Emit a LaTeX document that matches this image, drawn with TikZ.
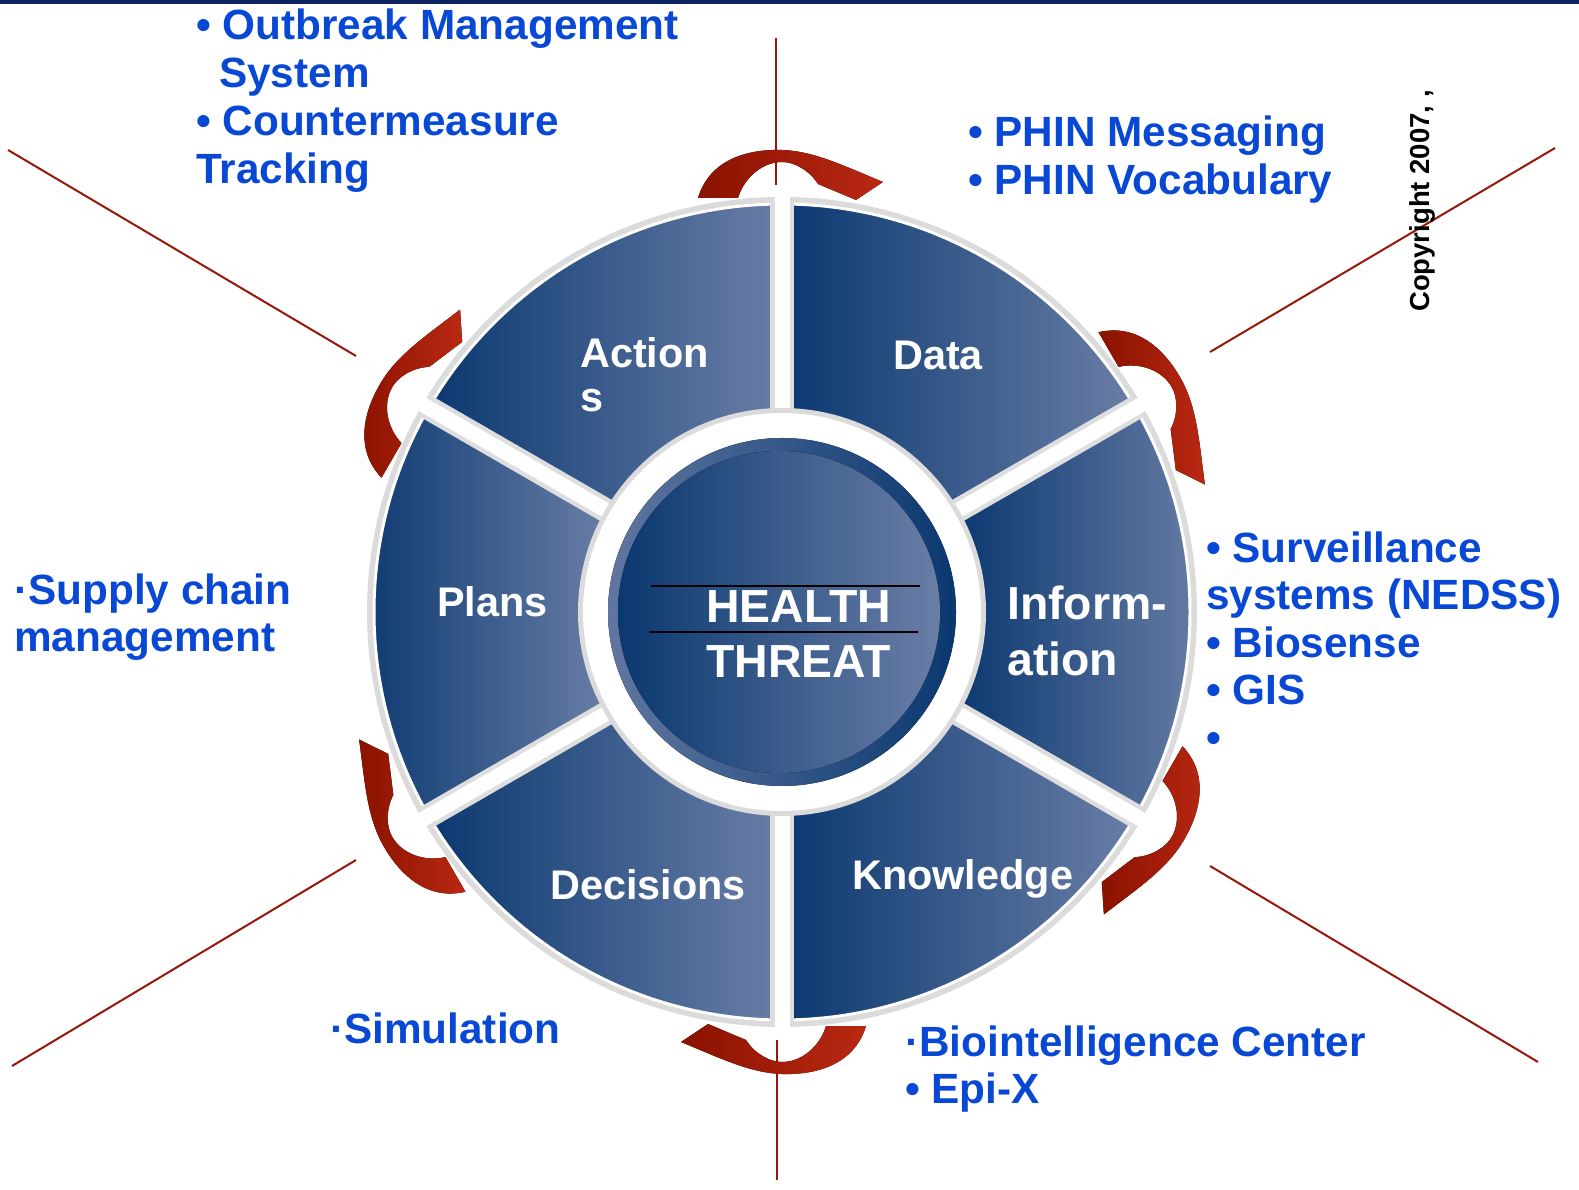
\documentclass[tikz,border=0pt]{standalone}
\usepackage{fontspec}
\setmainfont{Liberation Sans}
\definecolor{wheeldark}{RGB}{10,56,112}
\definecolor{wheellight}{RGB}{106,126,166}
\definecolor{rimlight}{RGB}{96,118,160}
\definecolor{labelblue}{RGB}{8,72,212}
\definecolor{arrowdark}{RGB}{138,18,0}
\definecolor{arrowlight}{RGB}{185,40,18}
\definecolor{guide}{RGB}{150,24,10}
\definecolor{topband}{RGB}{12,36,96}
\tikzset{
  bluetxt/.style={anchor=base west, inner sep=0pt, text=labelblue, font=\bfseries\fontsize{42.3pt}{48pt}\selectfont},
  whitetxt/.style={anchor=base west, inner sep=0pt, text=white, font=\bfseries\fontsize{41.4pt}{48pt}\selectfont},
  bigtxt/.style={whitetxt, font=\bfseries\fontsize{46.4pt}{52pt}\selectfont},
  guideline/.style={draw=guide, line width=2pt},
  gapshadow/.style={draw=black!13, line width=24pt},
  gapwhite/.style={draw=white, line width=15pt}
}
\newcommand{\cyclearrow}[1]{%
  \begin{scope}[shift={(782,577)}, shift={(#1:412)}, rotate=#1-90]
    \fill[left color=arrowdark, right color=arrowlight]
      (-84,2) .. controls (-72,42) and (-32,51) .. (0,50)
      .. controls (32,49) and (62,34) .. (101,18) -- (74,0) -- (36,16)
      .. controls (27,30) and (12,38) .. (0,38)
      .. controls (-20,38) and (-38,22) .. (-44,2) -- cycle;
  \end{scope}}
\begin{document}
\begin{tikzpicture}[x=1pt, y=1pt]
    \useasboundingbox (0,0) rectangle (1579,1189);
    \fill[topband] (0,1185) rectangle (1579,1189);
    \coordinate (ctr) at (782,577);
    % guide lines
    \coordinate (gT1) at (776,1151); \coordinate (gT2) at (776,1004);
    \coordinate (gB1) at (777,149);  \coordinate (gB2) at (777,9);
    \coordinate (gUL1) at (8,1039);  \coordinate (gUL2) at (356,833);
    \coordinate (gUR1) at (1210,837); \coordinate (gUR2) at (1555,1041);
    \coordinate (gLL1) at (12,123);  \coordinate (gLL2) at (356,329);
    \coordinate (gLR1) at (1210,323); \coordinate (gLR2) at (1538,127);
    \draw[guideline] (gUL1) -- (gUL2);
    \draw[guideline] (gUR1) -- (gUR2);
    \draw[guideline] (gLL1) -- (gLL2);
    \draw[guideline] (gLR1) -- (gLR2);
    % wheel
    \begin{scope}[shift={(ctr)}]
        \draw[black!14, line width=8pt] (0,0) circle[radius=411];
        \foreach \a in {-30,30,90,150,210,270}
            \fill[left color=wheeldark, right color=wheellight]
                (\a:200) -- (\a:409) arc[start angle=\a, end angle=\a+60, radius=409]
                -- (\a+60:200) arc[start angle=\a+60, end angle=\a, radius=200] -- cycle;
        \draw[white, line width=3pt] (0,0) circle[radius=408];
        \foreach \a in {-30,30,90,150,210,270}
            \draw[gapshadow] (\a:195) -- (\a:411);
        \foreach \a in {-30,30,90,150,210,270}
            \draw[gapwhite] (\a:190) -- (\a:425);
        \fill[black!14] (0,0) circle[radius=204];
        \fill[white] (0,0) circle[radius=199];
        \fill[left color=rimlight, right color=wheeldark] (0,0) circle[radius=174];
        \fill[left color=wheeldark, right color=wheellight] (-3,0) circle[radius=161];
    \end{scope}
    \draw[guideline] (gT1) -- (gT2);
    \draw[guideline] (gB1) -- (gB2);
    % cycle arrows
    \foreach \a in {90,30,-30,-90,-150,150}
        \cyclearrow{\a}
    % center
    \coordinate (hl1) at (651,603); \coordinate (hl2) at (920,603);
    \coordinate (hl3) at (649,557); \coordinate (hl4) at (918,557);
    \draw[black, line width=2pt] (hl1) -- (hl2);
    \draw[black, line width=2pt] (hl3) -- (hl4);
    \node[bigtxt] (health) at (706,566) {HEALTH};
    \node[bigtxt] (threat) at (706,511) {THREAT};
    % sectors
    \node[whitetxt] (act1) at (580,821) {Action};
    \node[whitetxt] (act2) at (580,777) {s};
    \node[whitetxt] (data) at (893,819) {Data};
    \node[whitetxt] (plans) at (437,572) {Plans};
    \node[bigtxt] (info1) at (1007,569) {Inform-};
    \node[bigtxt] (info2) at (1007,513) {ation};
    \node[whitetxt] (dec) at (550,289) {Decisions};
    \node[whitetxt] (know) at (852,299) {Knowledge};
    % outside lists
    \node[bluetxt] (obm1) at (196,1149) {• Outbreak Management};
    \node[bluetxt] (obm2) at (219,1101) {System};
    \node[bluetxt] (obm3) at (196,1053) {• Countermeasure};
    \node[bluetxt] (obm4) at (196,1005) {Tracking};
    \node[bluetxt] (phin1) at (968,1042) {• PHIN Messaging};
    \node[bluetxt] (phin2) at (968,994) {• PHIN Vocabulary};
    \node[bluetxt] (surv1) at (1206,626) {• Surveillance};
    \node[bluetxt] (surv2) at (1206,579) {systems (NEDSS)};
    \node[bluetxt] (surv3) at (1206,531) {• Biosense};
    \node[bluetxt] (surv4) at (1206,484) {• GIS};
    \node[bluetxt] (surv5) at (1206,436) {•};
    \node[bluetxt] (sup1) at (14,584) {·Supply chain};
    \node[bluetxt] (sup2) at (14,537) {management};
    \node[bluetxt] (sim) at (330,146) {·Simulation};
    \node[bluetxt] (bio1) at (905,133) {·Biointelligence Center};
    \node[bluetxt] (bio2) at (905,86) {• Epi-X};
    \node[anchor=base west, inner sep=0pt, rotate=90, font=\bfseries\fontsize{27.5pt}{30pt}\selectfont] (copy) at (1429,877) {Copyright 2007, ,};
\end{tikzpicture}
\end{document}
